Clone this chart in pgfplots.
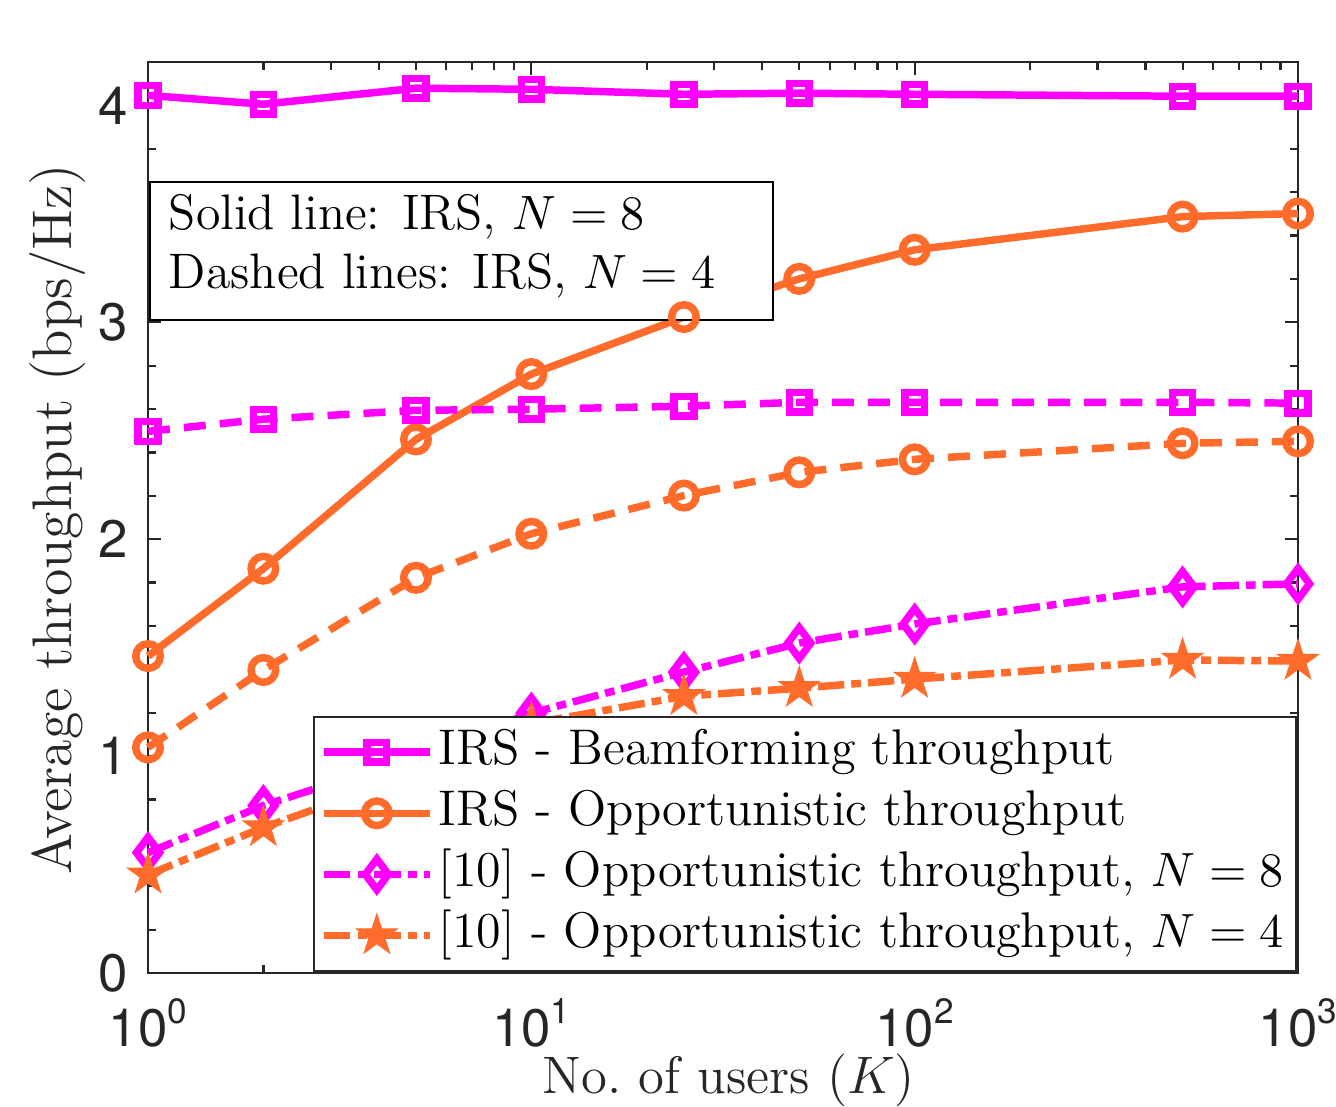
\documentclass[border=0pt]{standalone}
\usepackage{fontspec}
\usepackage{pgfplots}
\pgfplotsset{compat=1.18}
\newfontfamily\tickfont{TeX Gyre Heros}
\definecolor{mag}{RGB}{255,0,255}
\definecolor{org}{RGB}{255,107,43}
\definecolor{axgray}{RGB}{38,38,38}
\pgfdeclareplotmark{fstar}{%
  \pgfpathmoveto{\pgfpointpolar{90}{\pgfplotmarksize}}%
  \pgfpathlineto{\pgfpointpolar{126}{0.382\pgfplotmarksize}}%
  \pgfpathlineto{\pgfpointpolar{162}{\pgfplotmarksize}}%
  \pgfpathlineto{\pgfpointpolar{198}{0.382\pgfplotmarksize}}%
  \pgfpathlineto{\pgfpointpolar{234}{\pgfplotmarksize}}%
  \pgfpathlineto{\pgfpointpolar{270}{0.382\pgfplotmarksize}}%
  \pgfpathlineto{\pgfpointpolar{306}{\pgfplotmarksize}}%
  \pgfpathlineto{\pgfpointpolar{342}{0.382\pgfplotmarksize}}%
  \pgfpathlineto{\pgfpointpolar{18}{\pgfplotmarksize}}%
  \pgfpathlineto{\pgfpointpolar{54}{0.382\pgfplotmarksize}}%
  \pgfpathclose
  \pgfusepathqfillstroke
}
\newcommand{\tsup}[1]{\raisebox{5.2pt}{\fontsize{8}{8}\selectfont #1}}

\pgfplotstableread{
x    bf8    op8    bf4    op4    r8     r4
1    4.046  1.461  2.497  1.040  0.555  0.453
2    4.005  1.864  2.553  1.397  0.772  0.671
5    4.079  2.460  2.594  1.822  1.000  0.920
10   4.074  2.761  2.599  2.025  1.198  1.150
25   4.051  3.024  2.613  2.201  1.387  1.276
50   4.056  3.200  2.631  2.308  1.521  1.313
100  4.051  3.334  2.631  2.368  1.609  1.355
500  4.042  3.487  2.631  2.442  1.780  1.443
1000 4.042  3.501  2.627  2.451  1.794  1.438
}\data

\begin{document}
\begin{tikzpicture}
\begin{axis}[
  scale only axis, width=261.6pt, height=207.25pt,
  xmode=log, xmin=1, xmax=1000, ymin=0, ymax=4.2,
  xtick={1,10,100,1000},
  xticklabels={10\tsup{0},10\tsup{1},10\tsup{2},10\tsup{3}},
  ytick={0,1,2,3,4}, yticklabels={0,1,2,3,4},
  minor y tick num=4,
  tick align=inside, major tick length=3pt, minor tick length=1.9pt,
  axis line style={axgray, line width=0.5pt},
  every tick/.style={axgray, line width=0.5pt},
  tick label style={font=\tickfont\fontsize{12}{12}\selectfont, text=axgray},
  xticklabel style={inner sep=0pt, yshift=-5.6pt},
  yticklabel style={inner sep=0pt, xshift=-4.5pt},
  xlabel={No.\ of users ($K$)},
  ylabel={Average throughput (bps/Hz)},
  ylabel style={font=\fontsize{12.7}{14}\selectfont, text=axgray, at={(axis description cs:-0.0661,0.498)}, anchor=base},
  xlabel style={font=\fontsize{12}{14}\selectfont, text=axgray, at={(axis description cs:0.505,-0.1323)}, anchor=base},
  clip=false,
  legend style={at={(rel axis cs:0.9991,0.0011)}, anchor=south east,
    font=\fontsize{11.4}{13.9}\selectfont, draw=axgray, line width=0.5pt,
    inner xsep=1.5pt, inner ysep=1.1pt, row sep=0pt,
    nodes={inner ysep=1.25pt, inner xsep=1.2pt, text height=8.5pt, text depth=2.9pt}},
  legend cell align=left,
  legend image code/.code={\draw[mark repeat=2,mark phase=2,#1] plot coordinates {(0pt,0pt)(12pt,0pt)(24pt,0pt)};},
]
\addplot[mag, line width=1.7pt, mark=square, mark size=2.25pt, mark options={solid}] table[x=x,y=bf8]{\data};
\addlegendentry{IRS - Beamforming throughput}
\addplot[org, line width=1.7pt, mark=o, mark size=2.8pt, mark options={solid}] table[x=x,y=op8]{\data};
\addlegendentry{IRS - Opportunistic throughput}
\addplot[mag, line width=1.7pt, dash pattern=on 6pt off 1.6pt on 2.2pt off 1.6pt, mark=diamond, mark size=3.5pt, mark options={solid}] table[x=x,y=r8]{\data};
\addlegendentry{[10] - Opportunistic throughput, $N=8$}
\addplot[org, line width=1.7pt, dash pattern=on 6pt off 1.6pt on 2.2pt off 1.6pt, mark=fstar, mark size=4.8pt, mark options={solid, fill=org, line width=0.3pt}] table[x=x,y=r4]{\data};
\addlegendentry{[10] - Opportunistic throughput, $N=4$}
\addplot[mag, line width=1.7pt, dash pattern=on 5pt off 3.2pt, mark=square, mark size=2.25pt, mark options={solid}, forget plot] table[x=x,y=bf4]{\data};
\addplot[org, line width=1.7pt, dash pattern=on 5pt off 3.2pt, mark=o, mark size=2.8pt, mark options={solid}, forget plot] table[x=x,y=op4]{\data};
\draw[fill=white, draw=black, line width=0.5pt] (rel axis cs:0.0017,0.868) rectangle (rel axis cs:0.5435,0.717);
\node[anchor=base west, inner sep=0pt, font=\fontsize{11.35}{13.9}\selectfont] at (rel axis cs:0.0174,0.8156) {Solid line: IRS, $N=8$};
\node[anchor=base west, inner sep=0pt, font=\fontsize{11.35}{13.9}\selectfont] at (rel axis cs:0.0174,0.7508) {Dashed lines: IRS, $N=4$};
\end{axis}
\pgfresetboundingbox
\useasboundingbox ([xshift=-33.67pt, yshift=-30.26pt]current axis.south west) rectangle ([xshift=8.645pt, yshift=14.1pt]current axis.north east);
\end{tikzpicture}
\end{document}
